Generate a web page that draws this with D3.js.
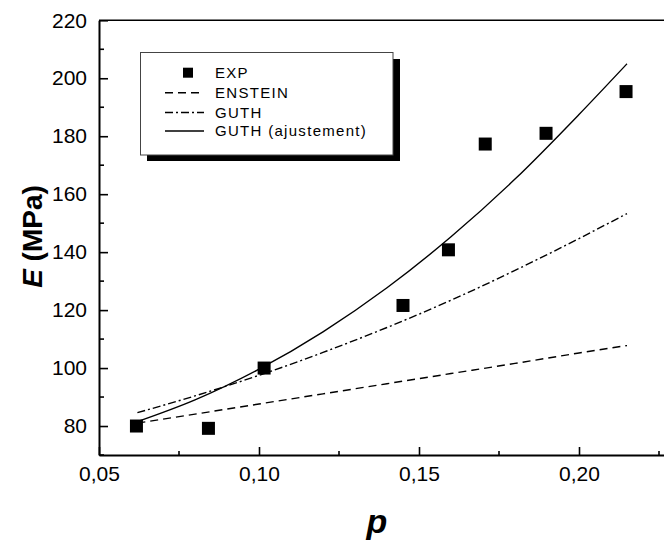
<!DOCTYPE html>
<html>
<head>
<meta charset="utf-8">
<script src="https://cdn.jsdelivr.net/npm/d3@7"></script>
<style>
  html, body { margin: 0; padding: 0; background: #fff; }
  svg { display: block; }
  text { font-family: "Liberation Sans", Arial, sans-serif; fill: #000; }
</style>
</head>
<body>
<svg id="chart" width="664" height="542"></svg>
<script>
// ---- Data ----
const expP = [0.0617, 0.0842, 0.1016, 0.145, 0.1592, 0.1707, 0.1897, 0.2147];
const expE = [80.0, 79.2, 100.0, 121.6, 140.8, 177.3, 181.0, 195.4];

const curveP = [0.062, 0.08, 0.10, 0.12, 0.14, 0.16, 0.18, 0.20, 0.215];
const einsteinE = [81.0, 84.1, 87.6, 91.1, 94.6, 98.1, 101.6, 105.2, 107.8];
const guthE = [84.6, 90.4, 97.5, 105.4, 114.0, 123.4, 133.7, 144.7, 153.3];
const guthFitE = [81.5, 89.0, 99.6, 112.5, 127.7, 145.3, 165.2, 187.5, 205.0];

const xTickValues = [0.05, 0.10, 0.15, 0.20];
const xTickLabels = ["0,05", "0,10", "0,15", "0,20"];
const xMinorTicks = [0.075, 0.125, 0.175, 0.225];
const yTickValues = [80, 100, 120, 140, 160, 180, 200, 220];
const yTickLabels = ["80", "100", "120", "140", "160", "180", "200", "220"];
const yMinorTicks = [70, 90, 110, 130, 150, 170, 190, 210];

const legendLabels = ["EXP", "ENSTEIN", "GUTH", "GUTH (ajustement)"];

// ---- Layout ----
const svg = d3.select("#chart");
const x = d3.scaleLinear().domain([0.05, 0.23]).range([99, 675]);
const y = d3.scaleLinear().domain([70, 220]).range([455, 20.3]);

// top frame line
svg.append("line")
  .attr("x1", x(0.05)).attr("x2", 664)
  .attr("y1", y(220)).attr("y2", y(220))
  .attr("stroke", "#000").attr("stroke-width", 1.6);

// bottom axis
const xAxis = d3.axisBottom(x)
  .tickValues(xTickValues)
  .tickFormat((d, i) => xTickLabels[i])
  .tickSizeInner(-8).tickSizeOuter(0).tickPadding(11);
const gx = svg.append("g").attr("transform", `translate(0,${y(70)})`).call(xAxis);
gx.select(".domain").attr("stroke-width", 2);
gx.selectAll(".tick line").attr("stroke-width", 1.6);
gx.selectAll("text").style("font-size", "21px");
gx.selectAll(".minor").data(xMinorTicks).enter().append("line")
  .attr("x1", d => x(d)).attr("x2", d => x(d))
  .attr("y1", 0).attr("y2", -4)
  .attr("stroke", "#000").attr("stroke-width", 1.6);

// left axis
const yAxis = d3.axisLeft(y)
  .tickValues(yTickValues)
  .tickFormat((d, i) => yTickLabels[i])
  .tickSizeInner(-9).tickSizeOuter(0).tickPadding(12);
const gy = svg.append("g").attr("transform", `translate(${x(0.05)},0)`).call(yAxis);
gy.select(".domain").attr("stroke-width", 2);
gy.selectAll(".tick line").attr("stroke-width", 1.6);
gy.selectAll("text").style("font-size", "21px");
gy.selectAll(".minor").data(yMinorTicks).enter().append("line")
  .attr("x1", 0).attr("x2", 5)
  .attr("y1", d => y(d)).attr("y2", d => y(d))
  .attr("stroke", "#000").attr("stroke-width", 1.6);

// axis titles
const yt = svg.append("text")
  .attr("transform", "translate(41.5,236.5) rotate(-90)")
  .attr("text-anchor", "middle")
  .style("font-size", "28px").style("font-weight", "bold");
yt.append("tspan").style("font-style", "italic").text("E");
yt.append("tspan").text(" (MPa)");

svg.append("text")
  .attr("x", 377).attr("y", 533)
  .attr("text-anchor", "middle")
  .style("font-size", "34px").style("font-weight", "bold").style("font-style", "italic")
  .text("p");

// ---- Curves ----
const line = d3.line().x(d => x(d[0])).y(d => y(d[1])).curve(d3.curveMonotoneX);
const series = [
  { vals: einsteinE, dash: "8,5" },
  { vals: guthE, dash: "8,3,2,3" },
  { vals: guthFitE, dash: null }
];
series.forEach(s => {
  svg.append("path")
    .datum(curveP.map((p, i) => [p, s.vals[i]]))
    .attr("d", line)
    .attr("fill", "none")
    .attr("stroke", "#000")
    .attr("stroke-width", 1.4)
    .attr("stroke-dasharray", s.dash);
});

// ---- Experimental squares ----
const sq = 13;
svg.selectAll(".exp").data(expP).enter().append("rect")
  .attr("x", (d) => x(d) - sq / 2)
  .attr("y", (d, i) => y(expE[i]) - sq / 2)
  .attr("width", sq).attr("height", sq)
  .attr("fill", "#000");

// ---- Legend ----
const lg = svg.append("g");
lg.append("rect").attr("x", 147).attr("y", 59).attr("width", 253).attr("height", 102).attr("fill", "#000");
lg.append("rect").attr("x", 140.5).attr("y", 52.5).attr("width", 252.5).attr("height", 102.5)
  .attr("fill", "#fff").attr("stroke", "#444").attr("stroke-width", 1);

const rowsY = [72.7, 92.7, 112.5, 131];
lg.append("rect").attr("x", 183).attr("y", rowsY[0] - 5).attr("width", 10).attr("height", 10).attr("fill", "#000");
const legDash = [null, "8,5", "8,3,2,3", null];
[1, 2, 3].forEach(i => {
  lg.append("line")
    .attr("x1", 165).attr("x2", 204)
    .attr("y1", rowsY[i]).attr("y2", rowsY[i])
    .attr("stroke", "#000").attr("stroke-width", 1.4)
    .attr("stroke-dasharray", legDash[i]);
});
legendLabels.forEach((t, i) => {
  lg.append("text")
    .attr("x", 215).attr("y", rowsY[i] + 5.3)
    .style("font-size", "15px").style("letter-spacing", "1.3px")
    .text(t);
});
</script>
</body>
</html>
